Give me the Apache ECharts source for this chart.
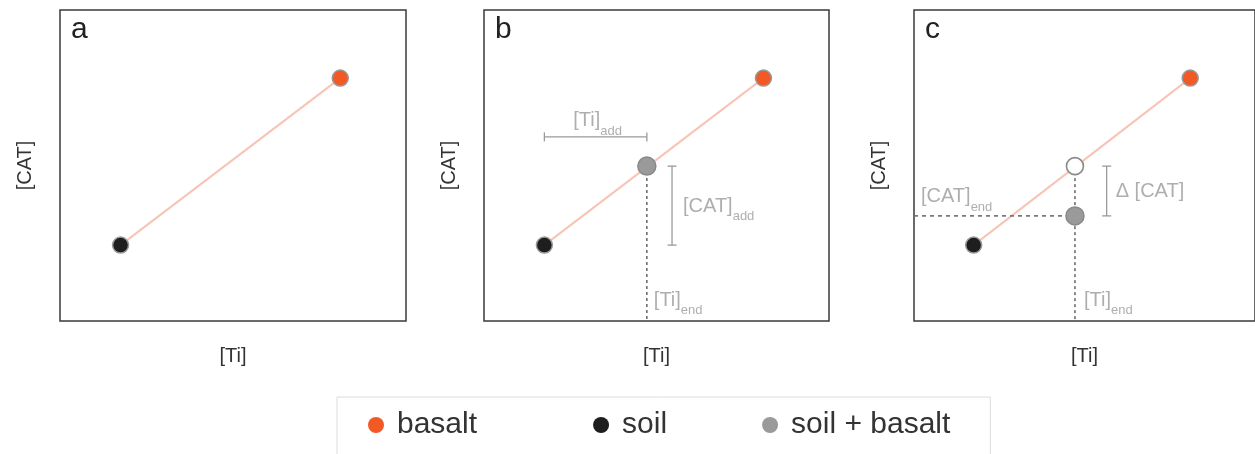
<!DOCTYPE html>
<html><head><meta charset="utf-8">
<script src="https://cdn.jsdelivr.net/npm/echarts@6/dist/echarts.min.js"></script>
<style>html,body{margin:0;padding:0;background:#fff}#c{width:1255px;height:454px}</style>
</head><body><div id="c"></div>
<script>
// ---- data ----
const panelLetters = ['a', 'b', 'c'];
const xAxisName = '[Ti]';
const yAxisName = '[CAT]';
const legendNames = ['basalt', 'soil', 'soil + basalt'];
const soilPoint = [17.5, 24.4];
const basaltPoint = [81.0, 78.1];
const mixPoint = [47.2, 49.8];      // soil + basalt on mixing line (b filled, c open)
const mixEndPoint = [47.2, 33.8];   // measured soil + basalt in c
const tiAddLevel = 59.2;            // y of [Ti]add bracket
const catAddX = 54.5;               // x of [CAT]add bracket
const deltaX = 56.5;                // x of Δ[CAT] bracket
const annotations = {
  tiAdd: ['[Ti]', 'add'],
  catAdd: ['[CAT]', 'add'],
  tiEnd: ['[Ti]', 'end'],
  catEnd: ['[CAT]', 'end'],
  delta: 'Δ [CAT]'
};

// ---- styles / layout ----
const FONT = '"Liberation Sans", Arial, Helvetica, sans-serif';
const gridLefts = [60, 484, 914];
const gridWidths = [346, 345, 345];
const GRID_TOP = 10, GRID_H = 311;
const C_BASALT = '#f15a24', C_SOIL = '#1e1e1e', C_MIX = '#9a9a9a';
const C_LINE = '#f8c4b5', C_ANN = '#9a9a9a', C_DOT = '#6e6e6e';

const rich = {
  m: {fontSize: 20, color: C_ANN, fontFamily: FONT, lineHeight: 27, verticalAlign: 'top'},
  s: {fontSize: 13, color: C_ANN, fontFamily: FONT, lineHeight: 27, verticalAlign: 'bottom'}
};
function sub(pair) { return '{m|' + pair[0] + '}{s|' + pair[1] + '}'; }

const grids = [], xAxes = [], yAxes = [], titles = [], series = [];
panelLetters.forEach((L, i) => {
  grids.push({left: gridLefts[i], top: GRID_TOP, width: gridWidths[i], height: GRID_H,
    show: true, borderColor: '#3a3a3a', borderWidth: 1.5, backgroundColor: 'transparent'});
  xAxes.push({type: 'value', gridIndex: i, min: 0, max: 100,
    axisLine: {show: false}, axisTick: {show: false}, axisLabel: {show: false}, splitLine: {show: false},
    name: xAxisName, nameLocation: 'middle', nameGap: 25,
    nameTextStyle: {fontSize: 20, color: '#333', fontFamily: FONT}});
  yAxes.push({type: 'value', gridIndex: i, min: 0, max: 100,
    axisLine: {show: false}, axisTick: {show: false}, axisLabel: {show: false}, splitLine: {show: false},
    name: yAxisName, nameLocation: 'middle', nameGap: 25,
    nameTextStyle: {fontSize: 20, color: '#333', fontFamily: FONT}});
  titles.push({text: L, left: gridLefts[i] + 11, top: 15, padding: 0,
    textStyle: {fontSize: 30, fontWeight: 'normal', color: '#222', fontFamily: FONT}});

  series.push({type: 'line', name: 'mixing line', xAxisIndex: i, yAxisIndex: i,
    data: [soilPoint, basaltPoint], symbol: 'none', silent: true, z: 1,
    lineStyle: {color: C_LINE, width: 2}});
  series.push({type: 'scatter', name: 'basalt', xAxisIndex: i, yAxisIndex: i,
    data: [basaltPoint], symbolSize: 16, z: 5,
    itemStyle: {color: C_BASALT, borderColor: '#999', borderWidth: 1.5, opacity: 1}});
  series.push({type: 'scatter', name: 'soil', xAxisIndex: i, yAxisIndex: i,
    data: [soilPoint], symbolSize: 16, z: 5,
    itemStyle: {color: C_SOIL, borderColor: '#999', borderWidth: 1.5, opacity: 1}});
});

function bracket(i, pts, vertical) {
  series.push({type: 'line', name: 'bracket', xAxisIndex: i, yAxisIndex: i, data: pts,
    symbol: 'rect', symbolSize: vertical ? [9, 1.3] : [1.3, 9], showSymbol: true, silent: true, z: 3,
    itemStyle: {color: C_ANN}, lineStyle: {color: C_ANN, width: 1.3}});
}
function dotted(i, pts, dash) {
  series.push({type: 'line', name: 'guide', xAxisIndex: i, yAxisIndex: i, data: pts,
    symbol: 'none', silent: true, z: 2, lineStyle: {color: C_DOT, width: 1.6, type: dash}});
}
function label(i, pt, text, position, offset) {
  series.push({type: 'scatter', name: 'annotation', xAxisIndex: i, yAxisIndex: i, data: [pt],
    symbolSize: 0, silent: true, z: 6,
    label: {show: true, position: position, distance: 0, offset: offset || [0, 0],
      formatter: text, rich: rich, fontFamily: FONT, fontSize: 20, color: C_ANN}});
}

// panel b
dotted(1, [mixPoint, [mixPoint[0], 0]], [3, 3]);
series.push({type: 'scatter', name: 'soil + basalt', xAxisIndex: 1, yAxisIndex: 1,
  data: [mixPoint], symbolSize: 18, z: 5,
  itemStyle: {color: C_MIX, borderColor: '#888', borderWidth: 1.5, opacity: 1}});
bracket(1, [[soilPoint[0], tiAddLevel], [mixPoint[0], tiAddLevel]], false);
bracket(1, [[catAddX, soilPoint[1]], [catAddX, mixPoint[1]]], true);
label(1, [(soilPoint[0] + mixPoint[0]) / 2, tiAddLevel], sub(annotations.tiAdd), 'top', [2, 1]);
label(1, [catAddX, (soilPoint[1] + mixPoint[1]) / 2], sub(annotations.catAdd), 'right', [11, 4]);
label(1, [mixPoint[0], 0], sub(annotations.tiEnd), 'insideBottomLeft', [7, -4]);

// panel c
dotted(2, [mixPoint, [mixPoint[0], 0]], [3, 3]);
dotted(2, [[0, mixEndPoint[1]], mixEndPoint], [4, 4]);
series.push({type: 'scatter', name: 'mixing target', xAxisIndex: 2, yAxisIndex: 2,
  data: [mixPoint], symbolSize: 17, z: 5,
  itemStyle: {color: '#fff', borderColor: '#8a8a8a', borderWidth: 1.6, opacity: 1}});
series.push({type: 'scatter', name: 'soil + basalt', xAxisIndex: 2, yAxisIndex: 2,
  data: [mixEndPoint], symbolSize: 18, z: 5,
  itemStyle: {color: C_MIX, borderColor: '#888', borderWidth: 1.5, opacity: 1}});
bracket(2, [[deltaX, mixEndPoint[1]], [deltaX, mixPoint[1]]], true);
label(2, [deltaX, (mixEndPoint[1] + mixPoint[1]) / 2], '{m|' + annotations.delta + '}', 'right', [9, 4]);
label(2, [0, mixEndPoint[1]], sub(annotations.catEnd), 'insideBottomLeft', [7, -2]);
label(2, [mixPoint[0], 0], sub(annotations.tiEnd), 'insideBottomLeft', [9, -4]);

const chart = echarts.init(document.getElementById('c'), null, {renderer: 'canvas'});
chart.setOption({
  animation: false,
  backgroundColor: '#fff',
  title: titles,
  grid: grids, xAxis: xAxes, yAxis: yAxes,
  legend: {
    left: 337, top: 397, orient: 'horizontal',
    padding: [13, 40, 40, 31],
    borderColor: '#dcdcdc', borderWidth: 1,
    icon: 'circle', itemWidth: 16, itemHeight: 16, itemGap: 95,
    itemStyle: {borderWidth: 0},
    selectedMode: false,
    data: legendNames,
    formatter: function (name) {
      return name === legendNames[0] ? name + '\u2002\u2009' : name;
    },
    textStyle: {fontSize: 30, color: '#333', fontFamily: FONT, padding: [0, 0, 0, 8]}
  },
  series: series
});
</script>
</body></html>
